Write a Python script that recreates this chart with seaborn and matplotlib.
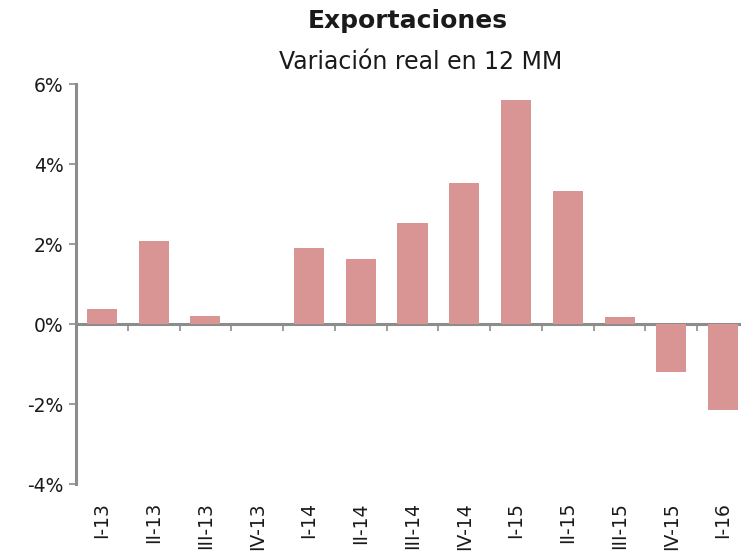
import numpy as np
import pandas as pd
import seaborn as sns
import matplotlib.pyplot as plt
from matplotlib.ticker import FuncFormatter

# data
quarters = ["I-13", "II-13", "III-13", "IV-13", "I-14", "II-14", "III-14",
            "IV-14", "I-15", "II-15", "III-15", "IV-15", "I-16"]
variation = [0.37, 2.07, 0.20, 0.0, 1.90, 1.63, 2.52,
             3.52, 5.60, 3.32, 0.18, -1.20, -2.15]
y_ticks = [-4, -2, 0, 2, 4, 6]

df = pd.DataFrame({"quarter": quarters, "var": variation})

sns.set_style("white")
plt.rcParams["font.family"] = ["DejaVu Sans"]

axis_grey = "#8c8c8c"
bar_color = "#d99594"
text_color = "#1a1a1a"

fig = plt.figure(figsize=(7.41, 5.53), dpi=100)
ax = fig.add_axes([76 / 741, 1 - 484 / 553, 673 / 741, 400 / 553])

sns.barplot(data=df, x="quarter", y="var", color=bar_color, width=0.58,
            saturation=1, linewidth=0, ax=ax)

ax.set_ylim(-4, 6)
ax.set_xlim(-0.5, len(quarters) - 0.5)
ax.set_yticks(y_ticks)
ax.yaxis.set_major_formatter(FuncFormatter(lambda v, _: f"{v:.0f}%"))
ax.set_xlabel("")
ax.set_ylabel("")

for side in ["top", "right", "bottom"]:
    ax.spines[side].set_visible(False)
ax.spines["left"].set_color(axis_grey)
ax.spines["left"].set_linewidth(2.2)

ax.tick_params(axis="y", direction="out", length=5, width=1.2, color=axis_grey,
               labelsize=13.5, labelcolor=text_color, pad=4, left=True)
ax.tick_params(axis="x", length=0, labelsize=13.5, labelcolor=text_color,
               rotation=90, pad=13)

# zero line with small ticks between categories
zero = ax.secondary_xaxis(0.4)
zero.set_xticks(np.arange(len(quarters)) + 0.5)
zero.set_xticklabels([])
zero.tick_params(direction="out", length=5, width=1.2, color=axis_grey)
zero.spines["bottom"].set_color(axis_grey)
zero.spines["bottom"].set_linewidth(2.2)
for side in ["top", "left", "right"]:
    zero.spines[side].set_visible(False)

fig.text(0.55, 0.962, "Exportaciones", ha="center", va="center",
         fontsize=18, fontweight="bold", color=text_color)
fig.text(0.567, 0.888, "Variación real en 12 MM", ha="center", va="center",
         fontsize=17, color=text_color)

fig.savefig("out.png", dpi=100)
